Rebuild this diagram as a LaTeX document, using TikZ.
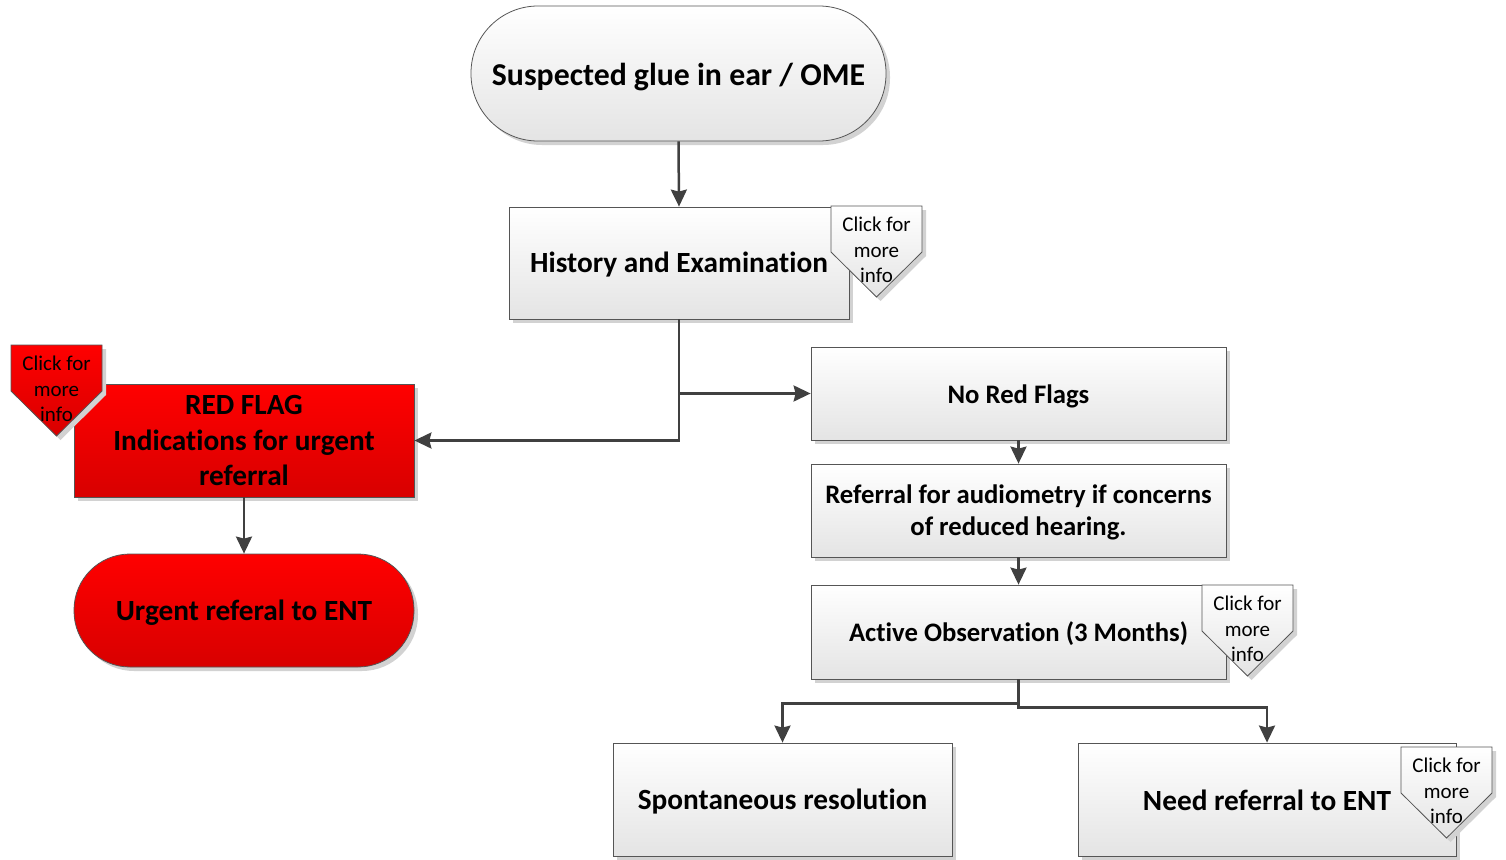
\documentclass[tikz,border=0pt]{standalone}
\usepackage{fontspec}
\setmainfont{Carlito}[Ligatures=NoCommon]
\usetikzlibrary{arrows.meta,shadows,calc}
\definecolor{bord}{HTML}{555555}
\definecolor{boxbot}{HTML}{E4E4E4}
\definecolor{arr}{HTML}{404040}
\definecolor{redtop}{HTML}{FF0000}
\definecolor{redbot}{HTML}{D80000}
\definecolor{shad}{HTML}{D2D2D2}
\newcommand{\mycallout}[5]{% #1 left x, #2 top y, #3 name, #4 top colour, #5 bottom colour
  \fill[shad] (#1+4,#2+4) -- (#1+95,#2+4) -- (#1+95,#2+50) -- (#1+49.5,#2+95) -- (#1+4,#2+50) -- cycle;
  \draw[bord, line width=0.8pt, top color=#4, bottom color=#5] (#1,#2) -- (#1+91,#2) -- (#1+91,#2+46) -- (#1+45.5,#2+91) -- (#1,#2+46) -- cycle;
  \node[callouttext] (#3) at (#1+45.5,#2+44) {Click for\\more\\info};
}
\newcommand{\down}[2]{\raisebox{-#1}[\height][\depth]{#2}}
\begin{document}
\begin{tikzpicture}[x=1pt,y=-1pt,
  box/.style={draw=bord, line width=0.8pt, top color=white, bottom color=boxbot,
    rectangle, inner sep=0pt, align=center, font=\fontsize{29.3}{35.5}\selectfont\bfseries,
    drop shadow={shadow xshift=4pt, shadow yshift=-4pt, fill=shad, opacity=1}},
  midtext/.style={font=\fontsize{26.7}{32}\selectfont\bfseries},
  redbox/.style={box, top color=redtop, bottom color=redbot, font=\fontsize{29.3}{35.5}\selectfont\bfseries},
  callouttext/.style={align=center, inner sep=0pt, font=\fontsize{21}{25.5}\selectfont},
  conn/.style={draw=arr, line width=2.5pt, -{Stealth[length=17pt,width=16pt,inset=2pt]}}
]
\useasboundingbox (0,0) rectangle (1506,859);

% start terminal
\node[box, rounded corners=67pt, minimum width=415pt, minimum height=135pt,
  font=\fontsize{31.8}{38}\selectfont\bfseries] (start) at (678.5,73.5) {\down{4pt}{Suspected glue in ear / OME}};

% history
\node[box, minimum width=340pt, minimum height=112pt] (hist) at (679,263) {\down{2pt}{History and Examination}};
\mycallout{831}{206}{histinfo}{white}{boxbot}

% red flag
\node[redbox, minimum width=340pt, minimum height=113pt] (red) at (244,440.5) {RED FLAG\\Indications for urgent\\referral};
\mycallout{11}{345}{redinfo}{redtop}{redbot}

% urgent referral
\node[redbox, rounded corners=56pt, minimum width=340pt, minimum height=113pt] (urgent) at (244,610.5) {\down{2pt}{Urgent referal to ENT}};

% right column
\node[box, midtext, minimum width=415pt, minimum height=93pt] (nored) at (1018.5,393.5) {\down{3pt}{No Red Flags}};
\node[box, midtext, minimum width=415pt, minimum height=93pt] (audio) at (1018.5,510.5) {\down{3pt}{\begin{tabular}{@{}c@{}}Referral for audiometry if concerns\\of reduced hearing.\end{tabular}}};
\node[box, midtext, minimum width=415pt, minimum height=94pt] (active) at (1018.5,632) {\down{2pt}{Active Observation (3 Months)}};
\mycallout{1202}{585}{activeinfo}{white}{boxbot}

\node[box, minimum width=339pt, minimum height=113pt] (spont) at (782.5,799.5) {\down{2pt}{Spontaneous resolution}};
\node[box, minimum width=378pt, minimum height=113pt] (ent) at (1267,799.5) {\down{1pt}{Need referral to ENT}};
\mycallout{1401}{747}{entinfo}{white}{boxbot}

% connectors
\draw[conn] (start.south) -- (hist.north);
\coordinate (split) at (hist.south |- nored.west);
\draw[conn] (hist.south) |- (red.east);
\draw[conn] (split) -- (nored.west);
\draw[conn] (red.south) -- (urgent.north);
\draw[conn] (nored.south) -- (audio.north);
\draw[conn] (audio.south) -- (active.north);
\coordinate (lbend) at ($(active.south)+(0,24)$);
\coordinate (rbend) at ($(active.south)+(0,28)$);
\draw[conn] (active.south) -- (lbend) -| (spont.north);
\draw[conn] (active.south) -- (rbend) -| (ent.north);
\end{tikzpicture}
\end{document}
